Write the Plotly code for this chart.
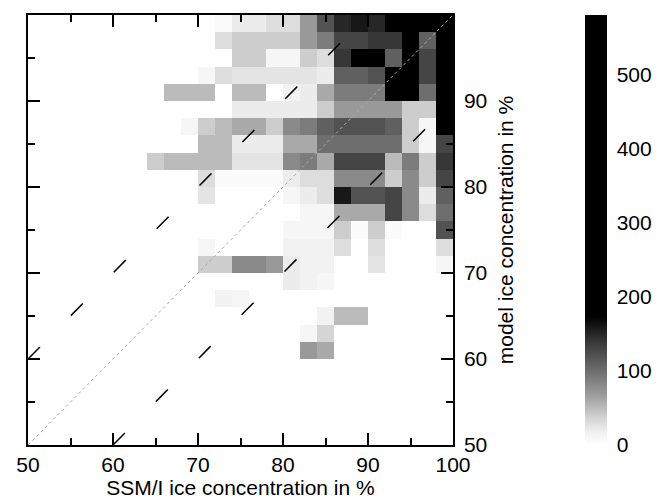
import plotly.graph_objects as go

# bin centres (2 % bins) for SSM/I (x) and model (y) ice concentration
x_centers = [51 + 2 * i for i in range(25)]
y_centers = [51 + 2 * j for j in range(25)]

# counts per bin, rows from y=50-52 (bottom) to y=98-100 (top), columns x=50-52 ... 98-100
counts = [
    [0]*25,
    [0]*25,
    [0]*25,
    [0]*25,
    [0]*25,
    [0,0,0,0,0,0,0,0,0,0, 0, 0, 0, 0, 0, 0,70,60,  0,  0,  0,  0,  0,  0,  0],
    [0,0,0,0,0,0,0,0,0,0, 0, 0, 0, 0, 0, 0,10,35,  0,  0,  0,  0,  0,  0,  0],
    [0,0,0,0,0,0,0,0,0,0, 0, 0, 0, 0, 0, 0, 0,15, 50, 50,  0,  0,  0,  0,  0],
    [0,0,0,0,0,0,0,0,0,0, 0,15,10, 0, 0, 0, 0, 0,  0,  0,  0,  0,  0,  0,  0],
    [0,0,0,0,0,0,0,0,0,0, 0, 0, 0, 0, 0,20,15,10,  0,  0,  0,  0,  0,  0,  0],
    [0,0,0,0,0,0,0,0,0,0,40,40,80,80,70,20,15,15,  0,  0, 25,  0,  0,  0, 10],
    [0,0,0,0,0,0,0,0,0,0,10, 0, 0, 0, 0,15,15,15, 30,  0, 30,  0,  0,  0, 30],
    [0,0,0,0,0,0,0,0,0,0, 0, 0, 0, 0, 0,10,10,10, 40,  5, 40,  5,  0,  0,120],
    [0,0,0,0,0,0,0,0,0,0, 0, 0, 0, 0, 0, 0,10,10, 60, 60, 60,130, 80, 30,100],
    [0,0,0,0,0,0,0,0,0,0,25, 0, 0, 0, 0,10,20,30,160,120,120,130, 80, 20,110],
    [0,0,0,0,0,0,0,0,0,0,30, 5, 5, 5, 5,20,30,30, 80, 80, 80, 40, 80, 40,130],
    [0,0,0,0,0,0,0,40,50,50,50,50,25,25,25,80,90,60,130,130,130, 50, 90, 40,140],
    [0,0,0,0,0,0,0,0,0,0,50,50,20,20,20,60,60,100,100,100,100,100, 40, 10,130],
    [0,0,0,0,0,0,0,0,0,10,40,50,60,60,40,80,90,110,120,120,120,110, 40, 10,180],
    [0,0,0,0,0,0,0,0,0,0, 0, 0,20,20,20,20,20,40, 70, 70, 70, 70, 40, 40,250],
    [0,0,0,0,0,0,0,0,50,50,50, 0,50,50, 0,15,20,60, 90, 90, 90,220,220,100,350],
    [0,0,0,0,0,0,0,0,0,0,10,30,25,25,25,25,25,20,110,110,120,260,260,130,400],
    [0,0,0,0,0,0,0,0,0,0, 0, 0,40,40,10,10,40,30,140,220,220,110,320,130,450],
    [0,0,0,0,0,0,0,0,0,0, 0,30,40,40,40,40,70,90,130,130,140,140,300,110,500],
    [0,0,0,0,0,0,0,0,0,0, 0, 5,20,20,30,30,70,120,150,160,150,450,500,520,570],
]

# reference lines: y = x, y = x + 10, y = x - 10
diag_x = [50, 100]
diag_y = [50, 100]
upper_x = [50, 90]
upper_y = [60, 100]
lower_x = [60, 100]
lower_y = [50, 90]

colorbar_ticks = [0, 100, 200, 300, 400, 500]
zmax = 580

FONT = "Liberation Sans, Arial, Helvetica, sans-serif"
FS = 21

colorscale = [
    [0.0, "#ffffff"],
    [0.03, "#f0f0f0"],
    [0.066, "#d0d0d0"],
    [0.112, "#a0a0a0"],
    [0.172, "#6e6e6e"],
    [0.24, "#383838"],
    [0.30, "#000000"],
    [1.0, "#000000"],
]

fig = go.Figure()
fig.add_trace(go.Heatmap(
    x=x_centers, y=y_centers, z=counts,
    zmin=0, zmax=zmax, colorscale=colorscale,
    colorbar=dict(
        x=(585 - 28) / 425, xanchor="left", y=0, yanchor="bottom",
        len=1.0, lenmode="fraction", thickness=22, thicknessmode="pixels",
        outlinewidth=0, tickvals=colorbar_ticks, ticks="outside",
        ticklen=6, tickcolor="rgba(0,0,0,0)",
        tickfont=dict(family=FONT, size=FS, color="black"),
        xpad=0, ypad=0,
    ),
    hoverinfo="skip",
))

fig.add_trace(go.Scatter(x=diag_x, y=diag_y, mode="lines",
                         line=dict(color="#aaaaaa", width=1, dash="dot"),
                         showlegend=False, hoverinfo="skip"))
for lx, ly in [(upper_x, upper_y), (lower_x, lower_y)]:
    fig.add_trace(go.Scatter(x=lx, y=ly, mode="lines",
                             line=dict(color="black", width=1.5, dash="17px,44px"),
                             showlegend=False, hoverinfo="skip"))

axis_common = dict(
    range=[50, 100], dtick=10, tick0=50,
    ticks="inside", ticklen=12, tickwidth=1.5, tickcolor="black",
    minor=dict(ticks="inside", ticklen=7, dtick=5, tickwidth=1.5, tickcolor="black"),
    showline=True, linecolor="black", linewidth=1.5, mirror="ticks",
    showgrid=False, zeroline=False, automargin=False,
    tickfont=dict(family=FONT, size=FS, color="black"),
)

fig.update_layout(
    width=666, height=503,
    margin=dict(l=20, r=221, t=7, b=66, autoexpand=False),
    paper_bgcolor="white", plot_bgcolor="white",
    showlegend=False,
    xaxis=dict(**axis_common,
               title=dict(text="SSM/I ice concentration in %",
                          font=dict(family=FONT, size=FS, color="black"),
                          standoff=0)),
    yaxis=dict(**axis_common, side="right", ticklabelstandoff=5,
               title=dict(text="model ice concentration in %",
                          font=dict(family=FONT, size=FS, color="black"),
                          standoff=12)),
)

fig.write_html("out.html")
